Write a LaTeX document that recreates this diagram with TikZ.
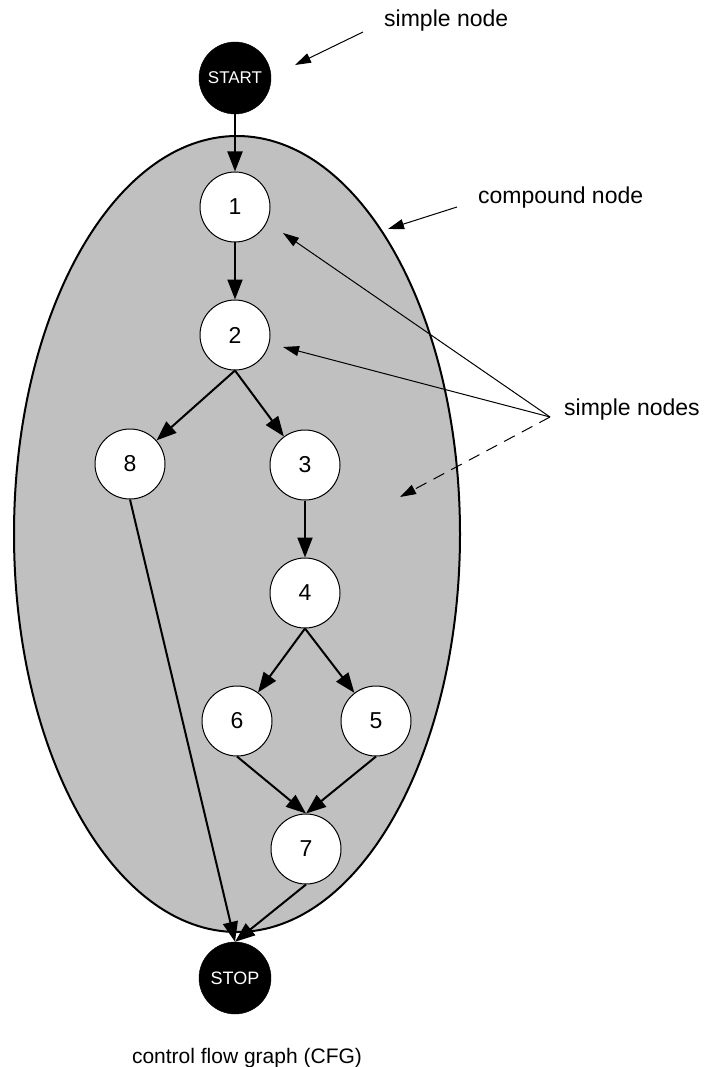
\documentclass[tikz,border=0pt]{standalone}
\usepackage{fontspec}
\setmainfont{Liberation Sans}
\usetikzlibrary{arrows.meta}
\definecolor{cgray}{HTML}{C0C0C0}
\begin{document}
\begin{tikzpicture}[x=1pt,y=-1pt,
  simplenode/.style={circle,draw=black,line width=1pt,fill=white,minimum size=70pt,inner sep=0pt,font=\fontsize{23}{27}\selectfont},
  termnode/.style={circle,draw=black,fill=black,minimum size=72pt,inner sep=0pt,text=white},
  edge/.style={line width=2pt,-{Triangle[length=20pt,width=15pt]}},
  note/.style={line width=1pt,-{Triangle[length=16pt,width=10pt]}},
  lbl/.style={font=\fontsize{23}{27}\selectfont,inner sep=0pt}]
\useasboundingbox (0,0) rectangle (706,1067);
\draw[line width=2pt,fill=cgray] (237,534) ellipse [x radius=223, y radius=398];
\node[termnode,font=\fontsize{17}{20}\selectfont] (start) at (235,78) {START};
\node[simplenode] (n1) at (235,207) {1};
\node[simplenode] (n2) at (235,335) {2};
\node[simplenode] (n8) at (130,464) {8};
\node[simplenode] (n3) at (305,465) {3};
\node[simplenode] (n4) at (305,593) {4};
\node[simplenode] (n6) at (237,721) {6};
\node[simplenode] (n5) at (376,721) {5};
\node[simplenode] (n7) at (306,849) {7};
\node[termnode,font=\fontsize{18}{20}\selectfont] (stop) at (235,978) {STOP};
\draw[edge] (start) -- (n1);
\draw[edge] (n1) -- (n2);
\draw[edge] (n2.south) -- (n8);
\draw[edge] (n2.south) -- (n3);
\draw[edge] (n3) -- (n4);
\draw[edge] (n4.south) -- (n6);
\draw[edge] (n4.south) -- (n5);
\draw[edge] (n6.south) -- (n7.north);
\draw[edge] (n5.south) -- (n7.north);
\draw[edge] (n8.south) -- (stop.north);
\draw[edge] (n7.south) -- (stop.north);
% annotations
\node[lbl,anchor=west] (t1) at (384,21) {simple node};
\node[lbl,anchor=west] (t2) at (478,198) {compound node};
\node[lbl,anchor=west] (t3) at (564,410) {simple nodes};
\node[font=\fontsize{21}{25}\selectfont,inner sep=0pt] (cap) at (247,1058) {control flow graph (CFG)};
\coordinate (a1s) at (363,32);
\coordinate (a1e) at (295,65);
\coordinate (a2s) at (457,207);
\coordinate (a2e) at (388,229);
\coordinate (hub) at (550,417);
\coordinate (h1) at (283,233);
\coordinate (h2) at (283,347);
\coordinate (h3) at (400,497);
\draw[note] (a1s) -- (a1e);
\draw[note] (a2s) -- (a2e);
\draw[note] (hub) -- (h1);
\draw[note] (hub) -- (h2);
\draw[note,dash pattern=on 12pt off 8pt] (hub) -- (h3);
\end{tikzpicture}
\end{document}
